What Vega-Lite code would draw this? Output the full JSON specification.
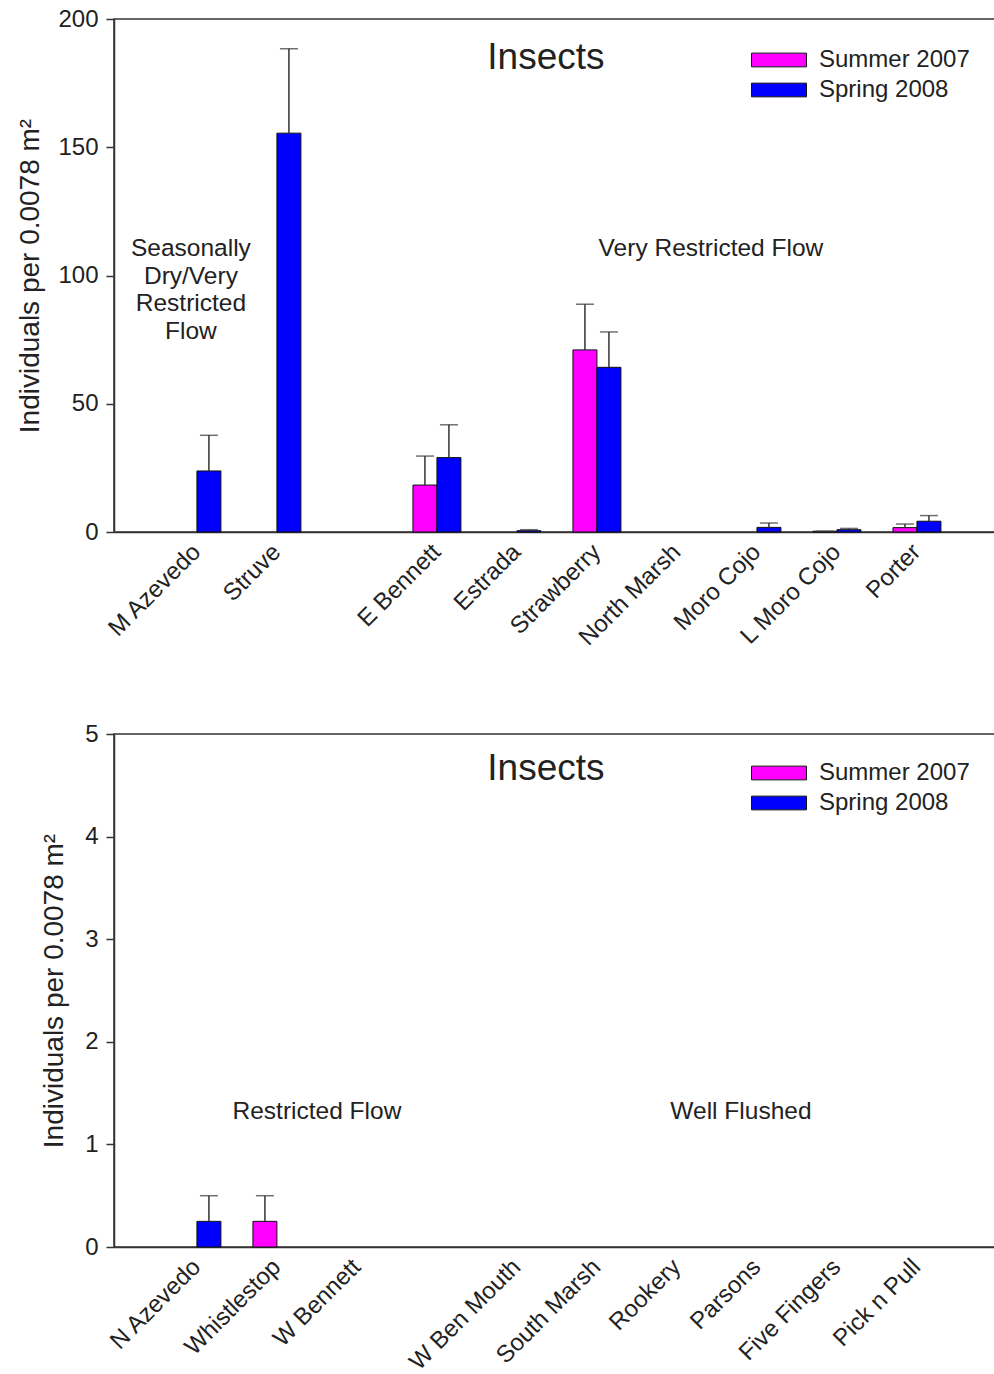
{
  "$schema": "https://vega.github.io/schema/vega-lite/v6.json",
  "background": "white",
  "padding": {"left": 16, "top": 6, "right": 0, "bottom": 0},
  "spacing": 202,
  "bounds": "flush",
  "resolve": {"scale": {"color": "independent"}, "legend": {"color": "independent"}},
  "config": {
    "font": "Liberation Sans",
    "view": {"stroke": "#333", "strokeWidth": 1.5},
    "axis": {"grid": false, "domainColor": "#333", "domainWidth": 1.5, "tickColor": "#333", "tickWidth": 1.5, "labelColor": "#222", "titleColor": "#222", "labelFont": "Liberation Sans", "titleFont": "Liberation Sans", "labelFontSize": 24, "titleFontSize": 28, "titleFontWeight": "normal"},
    "legend": {"labelFont": "Liberation Sans", "labelFontSize": 24, "labelColor": "#222"},
    "text": {"font": "Liberation Sans", "color": "#222"}
  },
  "datasets": {
    "top": [
      {"site": "M Azevedo", "season": "Spring 2008", "value": 23.8, "hi": 37.7},
      {"site": "Struve", "season": "Spring 2008", "value": 155.5, "hi": 188.4},
      {"site": "E Bennett", "season": "Summer 2007", "value": 18.3, "hi": 29.6},
      {"site": "E Bennett", "season": "Spring 2008", "value": 29.0, "hi": 41.8},
      {"site": "Estrada", "season": "Spring 2008", "value": 0.5, "hi": 0.9},
      {"site": "Strawberry", "season": "Summer 2007", "value": 71.0, "hi": 88.8},
      {"site": "Strawberry", "season": "Spring 2008", "value": 64.2, "hi": 78.0},
      {"site": "Moro Cojo", "season": "Spring 2008", "value": 1.8, "hi": 3.5},
      {"site": "L Moro Cojo", "season": "Summer 2007", "value": 0.3, "hi": 0.3},
      {"site": "L Moro Cojo", "season": "Spring 2008", "value": 0.9, "hi": 1.4},
      {"site": "Porter", "season": "Summer 2007", "value": 1.7, "hi": 3.1},
      {"site": "Porter", "season": "Spring 2008", "value": 4.2, "hi": 6.4}
    ],
    "bottom": [
      {"site": "N Azevedo", "season": "Spring 2008", "value": 0.25, "hi": 0.5},
      {"site": "Whistlestop", "season": "Summer 2007", "value": 0.25, "hi": 0.5}
    ]
  },
  "vconcat": [
    {
      "width": 881,
      "height": 513,
      "data": {"name": "top"},
      "encoding": {
        "x": {"field": "site", "type": "nominal", "title": null,
          "scale": {"domain": ["M Azevedo", "Struve", " ", "E Bennett", "Estrada", "Strawberry", "North Marsh", "Moro Cojo", "L Moro Cojo", "Porter"], "paddingInner": 0, "paddingOuter": 0.506, "align": 0.53},
          "axis": {"labelAngle": -45, "labelAlign": "right", "labelBaseline": "middle", "ticks": false, "labelPadding": 16}},
        "xOffset": {"field": "season", "type": "nominal", "scale": {"domain": ["Summer 2007", "Spring 2008"], "paddingInner": 0, "paddingOuter": 0.667}}
      },
      "layer": [
        {
          "mark": {"type": "bar", "stroke": "#111", "strokeWidth": 1},
          "encoding": {
            "y": {"field": "value", "type": "quantitative", "title": "Individuals per 0.0078 m²",
              "scale": {"domain": [0, 200], "nice": false},
              "axis": {"values": [0, 50, 100, 150, 200], "format": "d", "tickSize": 8, "labelPadding": 8, "titlePadding": 13}},
            "color": {"field": "season", "type": "nominal",
              "scale": {"domain": ["Summer 2007", "Spring 2008"], "range": ["#FF00FF", "#0000FF"]},
              "legend": {"title": null, "orient": "none", "legendX": 653, "legendY": 29, "symbolType": "M-3,-0.75H3V0.75H-3Z", "symbolSize": 336, "symbolStrokeColor": "#111", "symbolStrokeWidth": 1, "symbolOpacity": 1, "labelOffset": 28, "rowPadding": 6, "padding": 0}}
          }
        },
        {
          "mark": {"type": "rule", "color": "#333", "strokeWidth": 1.5},
          "encoding": {"y": {"field": "value", "type": "quantitative"}, "y2": {"field": "hi"}}
        },
        {
          "mark": {"type": "tick", "color": "#333", "thickness": 1.5, "size": 18},
          "encoding": {"y": {"field": "hi", "type": "quantitative"}}
        },
        {
          "data": {"values": [{"site": "Estrada", "y": 184.8, "label": "Insects"}]},
          "mark": {"type": "text", "fontSize": 37, "dx": 29, "baseline": "middle"},
          "encoding": {"x": {"field": "site", "type": "nominal"}, "xOffset": null, "y": {"field": "y", "type": "quantitative"}, "text": {"field": "label"}}
        },
        {
          "data": {"values": [{"site": "M Azevedo", "y": 110.3, "label": ["Seasonally", "Dry/Very", "Restricted", "Flow"]}]},
          "mark": {"type": "text", "fontSize": 24.5, "dx": -6, "baseline": "middle", "lineHeight": 27.5},
          "encoding": {"x": {"field": "site", "type": "nominal"}, "xOffset": null, "y": {"field": "y", "type": "quantitative"}, "text": {"field": "label"}}
        },
        {
          "data": {"values": [{"site": "North Marsh", "y": 110.3, "label": "Very Restricted Flow"}]},
          "mark": {"type": "text", "fontSize": 24.5, "dx": 34, "baseline": "middle"},
          "encoding": {"x": {"field": "site", "type": "nominal"}, "xOffset": null, "y": {"field": "y", "type": "quantitative"}, "text": {"field": "label"}}
        }
      ]
    },
    {
      "width": 881,
      "height": 513,
      "data": {"name": "bottom"},
      "encoding": {
        "x": {"field": "site", "type": "nominal", "title": null,
          "scale": {"domain": ["N Azevedo", "Whistlestop", "W Bennett", "  ", "W Ben Mouth", "South Marsh", "Rookery", "Parsons", "Five Fingers", "Pick n Pull"], "paddingInner": 0, "paddingOuter": 0.506, "align": 0.53},
          "axis": {"labelAngle": -45, "labelAlign": "right", "labelBaseline": "middle", "ticks": false, "labelPadding": 16}},
        "xOffset": {"field": "season", "type": "nominal", "scale": {"domain": ["Summer 2007", "Spring 2008"], "paddingInner": 0, "paddingOuter": 0.667}}
      },
      "layer": [
        {
          "mark": {"type": "bar", "stroke": "#111", "strokeWidth": 1},
          "encoding": {
            "y": {"field": "value", "type": "quantitative", "title": "Individuals per 0.0078 m²",
              "scale": {"domain": [0, 5], "nice": false},
              "axis": {"values": [0, 1, 2, 3, 4, 5], "format": "d", "tickSize": 8, "labelPadding": 8, "titlePadding": 16}},
            "color": {"field": "season", "type": "nominal",
              "scale": {"domain": ["Summer 2007", "Spring 2008"], "range": ["#FF00FF", "#0000FF"]},
              "legend": {"title": null, "orient": "none", "legendX": 653, "legendY": 27, "symbolType": "M-3,-0.75H3V0.75H-3Z", "symbolSize": 336, "symbolStrokeColor": "#111", "symbolStrokeWidth": 1, "symbolOpacity": 1, "labelOffset": 28, "rowPadding": 6, "padding": 0}}
          }
        },
        {
          "mark": {"type": "rule", "color": "#333", "strokeWidth": 1.5},
          "encoding": {"y": {"field": "value", "type": "quantitative"}, "y2": {"field": "hi"}}
        },
        {
          "mark": {"type": "tick", "color": "#333", "thickness": 1.5, "size": 18},
          "encoding": {"y": {"field": "hi", "type": "quantitative"}}
        },
        {
          "data": {"values": [{"site": "W Ben Mouth", "y": 4.66, "label": "Insects"}]},
          "mark": {"type": "text", "fontSize": 37, "dx": 29, "baseline": "middle"},
          "encoding": {"x": {"field": "site", "type": "nominal"}, "xOffset": null, "y": {"field": "y", "type": "quantitative"}, "text": {"field": "label"}}
        },
        {
          "data": {"values": [{"site": "Whistlestop", "y": 1.32, "label": "Restricted Flow"}]},
          "mark": {"type": "text", "fontSize": 24.5, "dx": 40, "baseline": "middle"},
          "encoding": {"x": {"field": "site", "type": "nominal"}, "xOffset": null, "y": {"field": "y", "type": "quantitative"}, "text": {"field": "label"}}
        },
        {
          "data": {"values": [{"site": "Parsons", "y": 1.32, "label": "Well Flushed"}]},
          "mark": {"type": "text", "fontSize": 24.5, "dx": -16, "baseline": "middle"},
          "encoding": {"x": {"field": "site", "type": "nominal"}, "xOffset": null, "y": {"field": "y", "type": "quantitative"}, "text": {"field": "label"}}
        }
      ]
    }
  ]
}
